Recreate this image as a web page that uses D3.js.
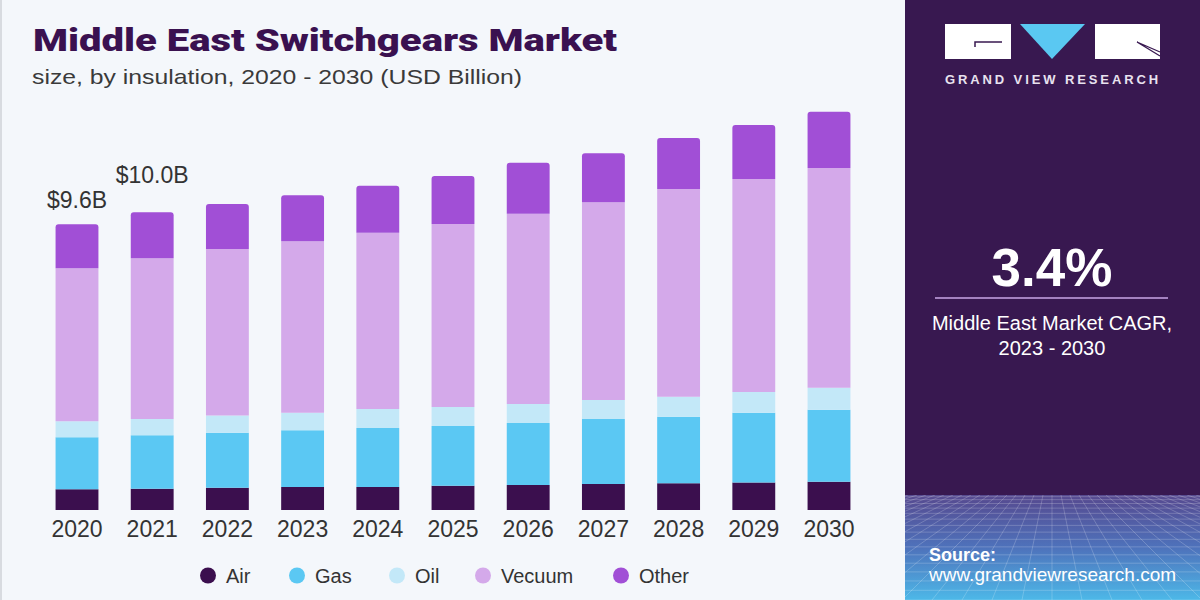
<!DOCTYPE html>
<html><head><meta charset="utf-8">
<script src="https://cdn.jsdelivr.net/npm/d3@7"></script>
<style>
html,body{margin:0;padding:0;background:#f4f7fb;}
svg{display:block;}
</style></head>
<body>
<svg id="chart" width="1200" height="600"></svg>
<script>
const years = ["2020","2021","2022","2023","2024","2025","2026","2027","2028","2029","2030"];
const seriesNames = ["Air","Gas","Oil","Vecuum","Other"];
const air    = [0.70,0.71,0.75,0.77,0.77,0.81,0.84,0.87,0.90,0.92,0.95];
const gas    = [1.74,1.80,1.84,1.91,1.98,2.01,2.08,2.18,2.23,2.34,2.41];
const oil    = [0.54,0.54,0.58,0.58,0.64,0.64,0.64,0.64,0.67,0.70,0.74];
const vecuum = [5.13,5.40,5.59,5.76,5.91,6.14,6.38,6.64,6.97,7.15,7.38];
const other  = [1.48,1.54,1.51,1.54,1.58,1.61,1.71,1.64,1.71,1.81,1.88];
const valueLabelYears = ["2020","2021"];
const valueLabelTexts = ["$9.6B","$10.0B"];
const colors = ["#3b0f4e","#5bc8f3","#c3e8f8","#d4a9ea","#a14fd6"];

const svg = d3.select("#chart");
const FONT = "'Liberation Sans', Arial, sans-serif";

// background
svg.append("rect").attr("width",1200).attr("height",600).attr("fill","#f4f7fb");
svg.append("rect").attr("x",0).attr("y",0).attr("width",2).attr("height",600).attr("fill","#d8dbe0");

// title
svg.append("text").attr("x",33).attr("y",51).text("Middle East Switchgears Market")
  .attr("font-family","Roboto, 'Liberation Sans', sans-serif").attr("font-weight",900)
  .attr("font-size",32).attr("fill","#3a1150").attr("textLength",584).attr("lengthAdjust","spacingAndGlyphs");
svg.append("text").attr("x",32).attr("y",84).text("size, by insulation, 2020 - 2030 (USD Billion)")
  .attr("font-family",FONT).attr("font-size",21).attr("fill","#3a3a3a")
  .attr("textLength",490).attr("lengthAdjust","spacingAndGlyphs");

// data table
const table = years.map((y,i)=>({year:y, Air:air[i], Gas:gas[i], Oil:oil[i], Vecuum:vecuum[i], Other:other[i]}));
const stack = d3.stack().keys(seriesNames)(table);

const x = d3.scaleBand().domain(years).range([39.4,866.6]).paddingInner(0.43).paddingOuter(0.215);
const y = d3.scaleLinear().domain([0,14]).range([510, 510-14*29.8]);
const color = d3.scaleOrdinal().domain(seriesNames).range(colors);

const g = svg.append("g");
stack.forEach((layer,li)=>{
  const isTop = li === stack.length-1;
  g.selectAll(null).data(layer).enter().append("path")
    .attr("fill", color(layer.key))
    .attr("d", d=>{
      const x0 = x(d.data.year), w = x.bandwidth();
      const yt = y(d[1]), yb = y(d[0]);
      if(!isTop) return `M${x0},${yb}V${yt}H${x0+w}V${yb}Z`;
      const r = 3;
      return `M${x0},${yb}V${yt+r}Q${x0},${yt} ${x0+r},${yt}H${x0+w-r}Q${x0+w},${yt} ${x0+w},${yt+r}V${yb}Z`;
    });
});

// value labels
const totals = {};
table.forEach(d=>{ totals[d.year] = d.Air+d.Gas+d.Oil+d.Vecuum+d.Other; });
const labelGap = [16, 29.5];
valueLabelYears.forEach((yr,i)=>{
  svg.append("text")
    .attr("x", x(yr)+x.bandwidth()/2)
    .attr("y", y(totals[yr])-labelGap[i])
    .attr("text-anchor","middle").attr("font-family",FONT).attr("font-size",23).attr("fill","#333")
    .text(valueLabelTexts[i]);
});

// x axis labels
const xAxis = d3.axisBottom(x).tickSize(0).tickPadding(0);
const ax = svg.append("g").attr("transform","translate(0,510)").call(xAxis);
ax.select(".domain").remove();
ax.selectAll("text").attr("dy",null).attr("y",27).attr("font-family",FONT).attr("font-size",23).attr("fill","#333");

// legend
const legendCircleX = [208,297,397,483,621];
const lg = svg.append("g");
seriesNames.forEach((s,i)=>{
  lg.append("circle").attr("cx",legendCircleX[i]).attr("cy",575.5).attr("r",8).attr("fill",colors[i]);
  lg.append("text").attr("x",legendCircleX[i]+18).attr("y",582.5).text(s)
    .attr("font-family",FONT).attr("font-size",20).attr("fill","#333");
});

// right panel
const px = 905;
const defs = svg.append("defs");
const grad = defs.append("linearGradient").attr("id","gridGrad").attr("x1",0).attr("y1",0).attr("x2",0).attr("y2",1);
grad.append("stop").attr("offset","0%").attr("stop-color","#56498f");
grad.append("stop").attr("offset","50%").attr("stop-color","#4e72bb");
grad.append("stop").attr("offset","100%").attr("stop-color","#4db8e8");
defs.append("clipPath").attr("id","panelClip").append("rect").attr("x",px).attr("y",495).attr("width",1200-px).attr("height",105);
svg.append("rect").attr("x",px).attr("y",0).attr("width",1200-px).attr("height",600).attr("fill","#381850");
svg.append("rect").attr("x",px).attr("y",495).attr("width",1200-px).attr("height",105).attr("fill","url(#gridGrad)");
// perspective grid
const grid = svg.append("g").attr("clip-path","url(#panelClip)").attr("stroke","#ffffff").attr("stroke-opacity",0.25).attr("stroke-width",0.8).attr("fill","none");
const hz = 495;
for(let k=1;k<=16;k++){
  const yy = hz + Math.pow(k/16,1.5)*105;
  grid.append("line").attr("x1",px).attr("x2",1200).attr("y1",yy).attr("y2",yy);
}
for(let k=-40;k<=40;k++){
  const xt = 1052 + k*9, xb = 1052 + k*30;
  grid.append("line").attr("x1",xt).attr("y1",hz).attr("x2",xb).attr("y2",600);
}

// logo
const logo = svg.append("g");
logo.append("rect").attr("x",945).attr("y",24).attr("width",66).attr("height",35).attr("fill","#ffffff");
logo.append("path").attr("d","M975,47V42H1002").attr("stroke","#381850").attr("stroke-width",1.5).attr("fill","none");
logo.append("path").attr("d","M1020,24H1085L1052,59Z").attr("fill","#5ac8f2");
logo.append("rect").attr("x",1095).attr("y",24).attr("width",65).attr("height",35).attr("fill","#ffffff");
logo.append("path").attr("d","M1137,42L1160,52M1137,42L1160,56").attr("stroke","#381850").attr("stroke-width",1.3).attr("fill","none");
svg.append("text").attr("x",1053).attr("y",83.5).attr("text-anchor","middle").text("GRAND VIEW RESEARCH")
  .attr("font-family",FONT).attr("font-weight","bold").attr("font-size",13).attr("letter-spacing",2.9).attr("fill","#e8e2ef");

// CAGR
svg.append("text").attr("x",1052).attr("y",286).attr("text-anchor","middle").text("3.4%")
  .attr("font-family",FONT).attr("font-weight","bold").attr("font-size",53).attr("fill","#ffffff");
svg.append("line").attr("x1",935).attr("x2",1168).attr("y1",298).attr("y2",298).attr("stroke","#c9a6e6").attr("stroke-width",1.5);
svg.append("text").attr("x",1052).attr("y",330).attr("text-anchor","middle").text("Middle East Market CAGR,")
  .attr("font-family",FONT).attr("font-size",20).attr("fill","#ffffff");
svg.append("text").attr("x",1052).attr("y",355).attr("text-anchor","middle").text("2023 - 2030")
  .attr("font-family",FONT).attr("font-size",20).attr("fill","#ffffff");

// source
svg.append("text").attr("x",929).attr("y",561).text("Source:")
  .attr("font-family",FONT).attr("font-weight","bold").attr("font-size",18).attr("fill","#ffffff");
svg.append("text").attr("x",929).attr("y",581).text("www.grandviewresearch.com")
  .attr("font-family",FONT).attr("font-size",19).attr("fill","#ffffff");
</script>
</body></html>
